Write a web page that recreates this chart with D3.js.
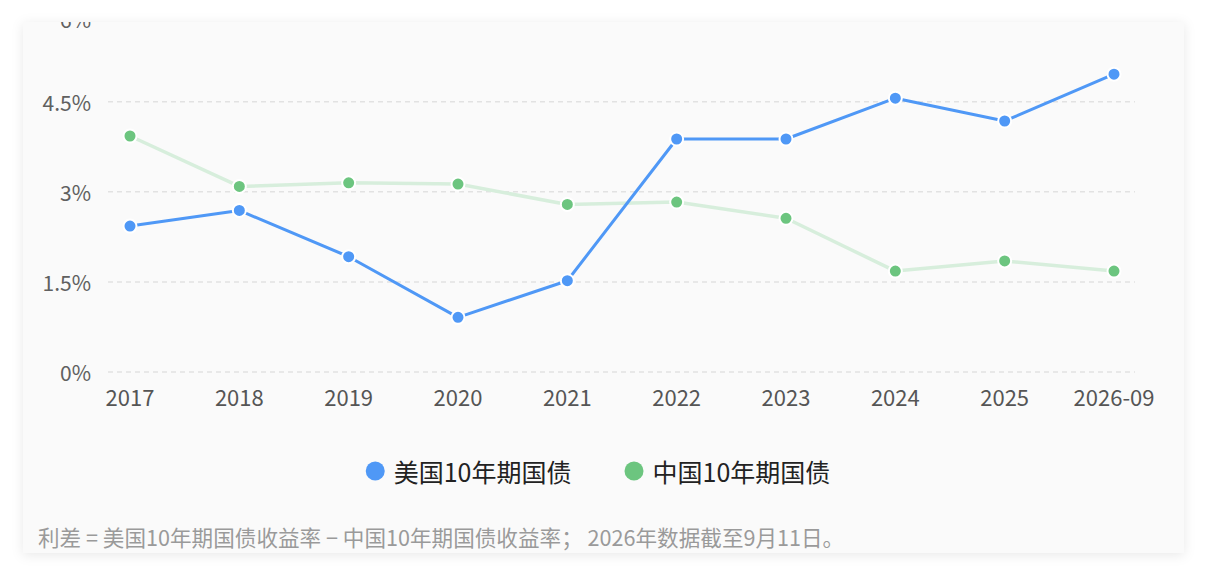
<!DOCTYPE html>
<html>
<head>
<meta charset="utf-8">
<script src="https://cdn.jsdelivr.net/npm/d3@7"></script>
<style>
  html, body { margin: 0; padding: 0; background: #fff; }
  svg { display: block; font-family: "Microsoft YaHei", "Noto Sans CJK SC", sans-serif; }
</style>
</head>
<body>
<svg id="chart" width="1207" height="577"></svg>
<script>
const years = ["2017", "2018", "2019", "2020", "2021", "2022", "2023", "2024", "2025", "2026-09"]
const usYield = [2.43, 2.69, 1.92, 0.91, 1.52, 3.88, 3.88, 4.56, 4.18, 4.96]
const cnYield = [3.93, 3.09, 3.15, 3.13, 2.79, 2.83, 2.56, 1.68, 1.85, 1.68]
const yTicks = [0, 1.5, 3, 4.5, 6]
const seriesNames = ["美国10年期国债", "中国10年期国债"]
const note = "利差 = 美国10年期国债收益率 − 中国10年期国债收益率；  2026年数据截至9月11日。"

const blue = "#4f98f6"
const green = "#6cc57f"

const svg = d3.select("#chart")

// card with soft shadow
const defs = svg.append("defs")
const f = defs.append("filter").attr("id", "shadow")
  .attr("x", "-5%").attr("y", "-10%").attr("width", "110%").attr("height", "120%")
f.append("feDropShadow").attr("dx", 0).attr("dy", 2).attr("stdDeviation", 6)
  .attr("flood-color", "#000").attr("flood-opacity", 0.09)

const card = { x: 23, y: 22, w: 1161, h: 531 }
defs.append("clipPath").attr("id", "cardClip")
  .append("rect").attr("x", card.x).attr("y", card.y).attr("width", card.w).attr("height", card.h)

svg.append("rect")
  .attr("x", card.x).attr("y", card.y).attr("width", card.w).attr("height", card.h)
  .attr("fill", "#fafafa").attr("filter", "url(#shadow)")

const G = svg.append("g").attr("clip-path", "url(#cardClip)")

const x = d3.scalePoint().domain(years).range([130, 1114])
const y = d3.scaleLinear().domain([0, 6]).range([372, 11.7])
const gridX1 = 108, gridX2 = 1135

// grid lines
G.append("g").selectAll("line").data(yTicks).join("line")
  .attr("x1", gridX1).attr("x2", gridX2)
  .attr("y1", d => y(d)).attr("y2", d => y(d))
  .attr("stroke", "#e2e2e2").attr("stroke-width", 1.5)
  .attr("stroke-dasharray", "5,4")

// y labels (max label sits below its line, mostly cut by the card top)
G.append("g").selectAll("text").data(yTicks).join("text")
  .attr("x", 91).attr("y", d => d === 6 ? y(d) + 7 : y(d))
  .attr("text-anchor", "end")
  .attr("dominant-baseline", "central")
  .attr("font-size", 21).attr("fill", "#606060")
  .text(d => d + "%")

// x labels
G.append("g").selectAll("text").data(years).join("text")
  .attr("x", d => x(d)).attr("y", 396)
  .attr("text-anchor", "middle").attr("dominant-baseline", "central")
  .attr("font-size", 22).attr("fill", "#555")
  .text(d => d)

const line = d3.line().x((d, i) => x(years[i])).y(d => y(d))

// china line (pale)
G.append("path").datum(cnYield).attr("d", line)
  .attr("fill", "none").attr("stroke", "#d7eedc").attr("stroke-width", 3.5)
  .attr("stroke-linejoin", "round")
G.append("path").datum(usYield).attr("d", line)
  .attr("fill", "none").attr("stroke", blue).attr("stroke-width", 3)
  .attr("stroke-linejoin", "round")

function dots(data, color) {
  G.append("g").selectAll("circle").data(data).join("circle")
    .attr("cx", (d, i) => x(years[i])).attr("cy", d => y(d))
    .attr("r", 6.5).attr("fill", color)
    .attr("stroke", "#fff").attr("stroke-width", 2)
}
dots(cnYield, green)
dots(usYield, blue)

// legend
const legend = G.append("g")
const colors = [blue, green]
let lx = 0
seriesNames.forEach((name, i) => {
  const g = legend.append("g")
  g.append("circle").attr("cx", 9.5).attr("cy", 0).attr("r", 9.5).attr("fill", colors[i])
  const t = g.append("text").attr("x", 28).attr("y", 0).attr("dominant-baseline", "central")
    .attr("font-size", 25).attr("fill", "#222").text(name)
  const w = 28 + t.node().getComputedTextLength()
  g.attr("transform", `translate(${lx},471)`)
  lx += w + 53
})
const legendW = lx - 53
legend.attr("transform", `translate(${598 - legendW / 2},0)`)

// footnote
G.append("text").attr("x", 38).attr("y", 536)
  .attr("dominant-baseline", "central")
  .attr("font-size", 21.6).attr("fill", "#9a9a9a")
  .text(note)
</script>
</body>
</html>
